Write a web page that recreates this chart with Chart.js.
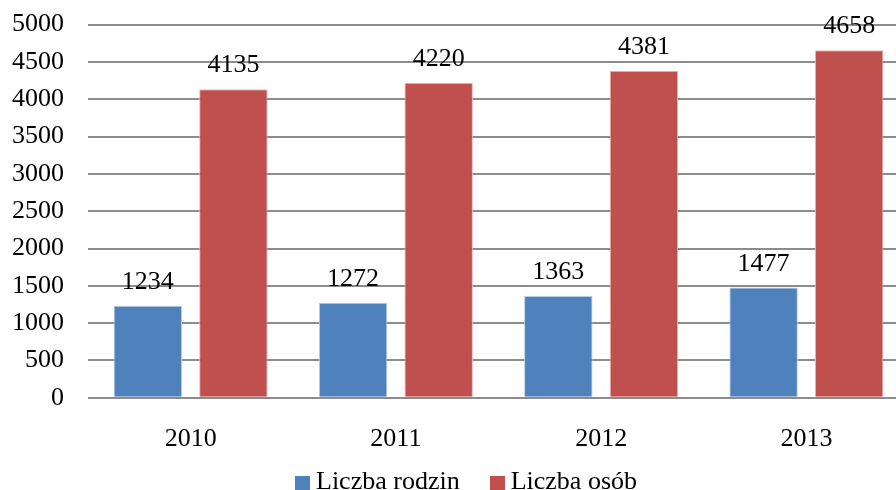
<!DOCTYPE html>
<html>
<head>
<meta charset="utf-8">
<script src="https://cdn.jsdelivr.net/npm/chart.js@4"></script>
<style>
  html, body { margin: 0; padding: 0; background: #fff; }
  #box { position: relative; width: 896px; height: 490px; overflow: hidden; }
  #wrap { position: absolute; left: 0; top: -15px; width: 909px; height: 505px; }
  #legend {
    position: absolute; left: 0; top: 466px; width: 896px;
    display: flex; justify-content: center; align-items: center;
    font: 26px 'Liberation Serif', 'Times New Roman', serif; color: #000;
    padding-left: 36px; box-sizing: border-box;
  }
  .item { display: flex; align-items: center; margin: 0 15px; }
  .sq { width: 15px; height: 14px; margin-right: 6px; margin-top: 4px; }
</style>
</head>
<body>
<div id="box">
  <div id="wrap"><canvas id="chart"></canvas></div>
  <div id="legend"></div>
</div>
<script>
// dane
const lata = ["2010", "2011", "2012", "2013"];
const liczbaRodzin = [1234, 1272, 1363, 1477];
const liczbaOsob = [4135, 4220, 4381, 4658];

const FONT = "'Liberation Serif', 'Times New Roman', serif";
const kolory = ["#4F81BD", "#C0504D"];

// etykiety wartosci nad slupkami
const valueLabels = {
  id: "valueLabels",
  afterDatasetsDraw(chart) {
    const ctx = chart.ctx;
    ctx.save();
    ctx.font = "26px " + FONT;
    ctx.fillStyle = "#000";
    ctx.textAlign = "center";
    ctx.textBaseline = "alphabetic";
    chart.data.datasets.forEach((ds, i) => {
      chart.getDatasetMeta(i).data.forEach((bar, j) => {
        ctx.fillText(ds.data[j], bar.x, bar.y - 17);
      });
    });
    ctx.restore();
  }
};

const chart = new Chart(document.getElementById("chart"), {
  type: "bar",
  data: {
    labels: lata,
    datasets: [
      {
        label: "Liczba rodzin",
        data: liczbaRodzin,
        backgroundColor: kolory[0],
        borderColor: "#b9cde5",
        borderWidth: 1,
        categoryPercentage: 0.834,
        barPercentage: 0.8
      },
      {
        label: "Liczba osób",
        data: liczbaOsob,
        backgroundColor: kolory[1],
        borderColor: "#e6b9b8",
        borderWidth: 1,
        categoryPercentage: 0.834,
        barPercentage: 0.8
      }
    ]
  },
  options: {
    responsive: true,
    maintainAspectRatio: false,
    animation: false,
    layout: { padding: { left: -12, right: 0, top: 0, bottom: 9 } },
    scales: {
      x: {
        grid: { display: false, drawTicks: false },
        border: { display: false },
        ticks: { color: "#000", font: { family: FONT, size: 26 }, padding: 26 }
      },
      y: {
        min: 0,
        max: 5000,
        grid: { color: "#8c8c8c", lineWidth: 2, drawTicks: false },
        border: { display: false },
        ticks: {
          stepSize: 500,
          autoSkip: false,
          color: "#000",
          font: { family: FONT, size: 26 },
          padding: 24,
          callback: v => String(v)
        }
      }
    },
    plugins: {
      tooltip: { enabled: false },
      legend: { display: false }
    }
  },
  plugins: [valueLabels]
});

// legenda w HTML
const legend = document.getElementById("legend");
chart.data.datasets.forEach((ds, i) => {
  const item = document.createElement("div");
  item.className = "item";
  const sq = document.createElement("span");
  sq.className = "sq";
  sq.style.background = kolory[i];
  item.appendChild(sq);
  item.appendChild(document.createTextNode(ds.label));
  legend.appendChild(item);
});
</script>
</body>
</html>
